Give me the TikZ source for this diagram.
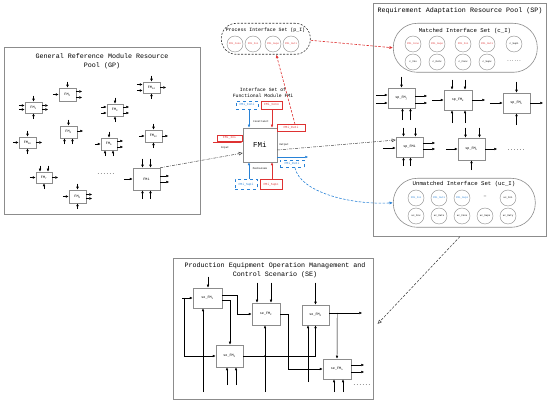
\documentclass[tikz,border=0pt]{standalone}
\usepackage{fontspec}
\setmainfont{Liberation Mono}
\usetikzlibrary{arrows.meta,calc}
\definecolor{ired}{RGB}{222,50,50}
\definecolor{iblue}{RGB}{40,130,215}
\definecolor{boxgray}{RGB}{140,140,140}
\newcommand\myfs[2]{\fontsize{#1}{#2}\selectfont}
\newcommand\pinsL[3]{\foreach \o in {#3}{\draw[pin] ($(#1.west)+(-#2,\o)$) -- ($(#1.west)+(0,\o)$);}}
\newcommand\pinsR[3]{\foreach \o in {#3}{\draw[pin] ($(#1.east)+(0,\o)$) -- ($(#1.east)+(#2,\o)$);}}
\newcommand\pinsT[3]{\foreach \o in {#3}{\draw[pin] ($(#1.north)+(\o,-#2)$) -- ($(#1.north)+(\o,0)$);}}
\newcommand\pinsB[3]{\foreach \o in {#3}{\draw[pin] ($(#1.south)+(\o,#2)$) -- ($(#1.south)+(\o,0)$);}}
\begin{document}
\begin{tikzpicture}[x=1pt,y=-1pt,
  frame/.style={draw=boxgray, line width=0.7pt, fill=white, anchor=north west, inner sep=0pt},
  title/.style={font=\myfs{6.7}{9}, align=center},
  blk/.style={draw=boxgray, line width=0.5pt, fill=white, inner sep=0pt, font=\myfs{3.4}{4}},
  pin/.style={-{Latex[length=3pt,width=2.6pt]}, line width=0.45pt},
  ibox/.style={line width=0.5pt, inner sep=0pt, font=\myfs{3.1}{4}},
  lbl/.style={font=\myfs{2.6}{3}, inner sep=0pt},
  circ/.style={circle, draw=boxgray, line width=0.4pt, minimum size=16pt, inner sep=0pt, font=\myfs{2.5}{3}},
  setbox/.style={draw=boxgray, line width=0.6pt, anchor=north west, inner sep=0pt, rounded corners=24pt},
  dd/.style={draw=black!75, line width=0.5pt, dash pattern=on 3pt off 1.2pt on 0.6pt off 1.2pt, -{Triangle[open,length=4pt,width=3.5pt]}},
  rd/.style={draw=ired, line width=0.6pt, dash pattern=on 2.5pt off 1.5pt, -{Latex[length=3.5pt,width=3pt]}},
  bd/.style={draw=iblue, line width=0.6pt, dash pattern=on 2.5pt off 1.5pt, -{Latex[length=3.5pt,width=3pt]}},
  kd/.style={draw=black!80, line width=0.5pt, dash pattern=on 2.5pt off 1.5pt, -{Triangle[open,length=4pt,width=3.5pt]}}
]
\useasboundingbox (0,0) rectangle (550,401);

% ================= GP =================
\node[frame, minimum width=196pt, minimum height=167pt] (gp) at (4,47) {};
\node[title] (gpt) at (102,61.5) {General Reference Module Resource\\Pool (GP)};

\node[blk, minimum width=17pt, minimum height=11pt] (g1) at (33.5,107.5) {FM\textsubscript{1}};
\pinsL{g1}{6}{-2,2}\pinsT{g1}{6}{0}\pinsR{g1}{6}{-2,2}\pinsB{g1}{6}{0}
\node[blk, minimum width=17pt, minimum height=13pt] (g2) at (67.5,94.5) {FM\textsubscript{2}};
\pinsL{g2}{6}{0}\pinsT{g2}{6}{0}\pinsR{g2}{6}{-3,3}
\node[blk, minimum width=17pt, minimum height=11pt] (g14) at (151.5,87.5) {FM\textsubscript{14}};
\pinsL{g14}{6}{-3,3}\pinsT{g14}{6}{0}\pinsR{g14}{6}{0}\pinsB{g14}{6}{0}
\node[blk, minimum width=16pt, minimum height=12pt] (g3) at (115,110) {FM\textsubscript{3}};
\pinsL{g3}{6}{-3,3}\pinsT{g3}{6}{0}\pinsR{g3}{6}{-3,3}\pinsB{g3}{6}{0}
\node[blk, minimum width=17pt, minimum height=12pt] (g4) at (68.5,132) {FM\textsubscript{4}};
\pinsT{g4}{6}{0}\pinsR{g4}{6}{-1}\pinsB{g4}{6}{-4,4}
\node[blk, minimum width=17pt, minimum height=11pt] (g10) at (27.5,142.5) {FM\textsubscript{10}};
\pinsL{g10}{6}{0}\pinsT{g10}{6}{0}\pinsR{g10}{6}{0}\pinsB{g10}{6}{0}
\node[blk, minimum width=16pt, minimum height=12pt] (g5) at (109,144) {FM\textsubscript{5}};
\pinsL{g5}{6}{0}\pinsT{g5}{6}{0}\pinsR{g5}{6}{-3,3}\pinsB{g5}{6}{-4,4}
\node[blk, minimum width=17pt, minimum height=12pt] (g12) at (153.5,136) {FM\textsubscript{12}};
\pinsL{g12}{6}{0}\pinsT{g12}{6}{0}\pinsR{g12}{6}{0}\pinsB{g12}{6}{0}
\node[blk, minimum width=16pt, minimum height=11pt] (g7) at (44,177.5) {FM\textsubscript{7}};
\pinsL{g7}{6}{0}\pinsT{g7}{6}{-4,4}\pinsR{g7}{6}{0}\pinsB{g7}{6}{0}
\node[blk, minimum width=17pt, minimum height=13pt] (g8) at (77.5,196.5) {FM\textsubscript{8}};
\pinsL{g8}{6}{0}\pinsT{g8}{6}{0}\pinsR{g8}{6}{-2,2}\pinsB{g8}{6}{0}
\node[blk, minimum width=27pt, minimum height=22pt] (gi) at (146.5,179) {FMi};
\pinsL{gi}{9}{0}\pinsT{gi}{9}{-4,4}\pinsR{gi}{9}{-3,3}\pinsB{gi}{9}{-4,4}
\node[font=\myfs{5}{6}] (gdots) at (106,174) {......};

% ================= centre =================
\node[setbox, dash pattern=on 2pt off 1.5pt, draw=black!80, minimum width=89pt, minimum height=31pt, rounded corners=15pt] (ps) at (221,23) {};
\node[font=\myfs{4.9}{6}] (pst) at (265.5,30) {Process Interface Set (p\_I)};
\node[circ, text=ired] (p1) at (235,44) {FMi\_Cono};
\node[circ, text=ired] (p2) at (253,44) {FMi\_Ini};
\node[circ, text=ired] (p3) at (273,44) {FMi\_Supo};
\node[circ, text=ired] (p4) at (291,44) {FMi\_Outi};

\node[font=\myfs{4.8}{6}, align=center] (ist) at (263,93) {Interface Set of\\Functional Module FMi};
\node[ibox, draw=iblue, dashed, text=iblue, minimum width=22pt, minimum height=8pt] (coni) at (247,105) {FMi\_Coni};
\node[ibox, draw=ired, text=ired, minimum width=21pt, minimum height=8pt] (cono) at (271.5,105) {FMi\_Cono};
\node[blk, minimum size=34pt, font=\myfs{7.5}{8}] (fmi) at (260,145) {FMi};
\draw[pin, iblue] ($(coni.south)+(2,0)$) -- ($(fmi.north)+(-11,0)$);
\draw[pin, ired] ($(cono.south)+(0.5,0)$) -- ($(fmi.north)+(12,0)$);
\node[lbl] (lcon) at (261,122) {Constraint};
\node[ibox, draw=ired, text=ired, minimum width=28pt, minimum height=7pt] (outr) at (291,128) {FMi\_Outi};
\node[ibox, draw=ired, text=ired, minimum width=25pt, minimum height=6pt] (inr) at (229.5,138) {FMi\_Ini};
\draw[pin, ired] ($(fmi.west)+(-30,-3)$) -- ($(fmi.west)+(0,-3)$);
\node[lbl] (lin) at (225,147.5) {Input};
\node[lbl] (lout) at (284,145) {Output};
\draw[pin, iblue] ($(fmi.east)+(0,12)$) -- ++(31,0);
\node[ibox, draw=iblue, dashed, text=iblue, minimum width=24pt, minimum height=7pt] (outb) at (292,164) {FMi\_Outi};
\node[lbl] (lmec) at (260,169) {Mechanism};
\node[ibox, draw=iblue, dashed, text=iblue, minimum width=22pt, minimum height=10pt] (supi) at (246,184.5) {FMi\_Supi};
\node[ibox, draw=ired, text=ired, minimum width=22pt, minimum height=10pt] (supo) at (271,184.5) {FMi\_Supo};
\draw[pin, iblue] ($(supi.north)+(3,0)$) -- ($(fmi.south)+(-11,0)$);
\draw[pin, ired] ($(supo.north)+(1,0)$) -- ($(fmi.south)+(12,0)$);

% ================= SP =================
\node[frame, minimum width=173pt, minimum height=233pt] (sp) at (373,3) {};
\node[title] (spt) at (460,10.5) {Requirement Adaptation Resource Pool (SP)};
\node[setbox, minimum width=144pt, minimum height=49pt] (ms) at (393,23) {};
\node[font=\myfs{5.7}{7}] (mst) at (465,31) {Matched Interface Set (c\_I)};
\node[circ, text=ired] (m1) at (413,44) {FMi\_Cono};
\node[circ, text=ired] (m2) at (437,44) {FMi\_Supo};
\node[circ, text=ired] (m3) at (463,44) {FMi\_Ini};
\node[circ, text=ired] (m4) at (487,44) {FMi\_Outi};
\node[circ] (m5) at (514,44) {c\_Supi};
\node[circ] (m6) at (413,62) {c\_Inx};
\node[circ] (m7) at (437,62) {c\_Outx};
\node[circ] (m8) at (463,62) {c\_Conx};
\node[circ] (m9) at (487,62) {c\_Supx};
\node[font=\myfs{4}{5}] (mdots) at (514,61) {......};

\node[blk, minimum width=27pt, minimum height=20pt] (spj) at (401.5,98) {sp\_FM\textsubscript{j}};
\pinsL{spj}{12}{-3,5}\pinsT{spj}{11}{0}\pinsR{spj}{12}{-2,5}\pinsB{spj}{12}{1,9}
\node[blk, minimum width=28pt, minimum height=20pt] (sp2) at (458,100) {sp\_FM\textsubscript{k}};
\pinsL{sp2}{12}{0}\pinsT{sp2}{10}{-6,7}\pinsR{sp2}{13}{0}\pinsB{sp2}{13}{-6,7}
\node[blk, minimum width=27pt, minimum height=20pt] (spk) at (516.5,103) {sp\_FM\textsubscript{k}};
\pinsL{spk}{13}{0}\pinsT{spk}{11}{0}\pinsR{spk}{13}{0}\pinsB{spk}{12}{0}
\node[blk, minimum width=27pt, minimum height=20pt] (spi) at (409.5,147) {sp\_FMi};
\pinsL{spi}{13}{1}\pinsT{spi}{9}{-6,6}\pinsR{spi}{12}{-4,2}\pinsB{spi}{9}{-6,1}
\node[blk, minimum width=27pt, minimum height=22pt] (spm) at (471.5,149) {sp\_FM\textsubscript{k}};
\pinsL{spm}{12}{0}\pinsT{spm}{10}{-6,8}\pinsR{spm}{12}{0}\pinsB{spm}{10}{0}
\node[font=\myfs{5}{6}] (sdots) at (516,150) {......};

\node[setbox, minimum width=142pt, minimum height=49pt] (ums) at (393,178) {};
\node[font=\myfs{5.7}{7}] (umt) at (464,184.5) {Unmatched Interface Set (uc\_I)};
\node[circ, text=iblue] (u1) at (416,198) {FMi\_Ini};
\node[circ, text=iblue] (u2) at (439,198) {FMi\_Outi};
\node[circ, text=iblue] (u3) at (462,198) {FMi\_Supi};
\node[font=\myfs{4}{5}] (udash) at (485,197) {---};
\node[circ] (u5) at (508,198) {uc\_Ini};
\node[circ] (u6) at (416,216) {uc\_Inx};
\node[circ] (u7) at (439,216) {uc\_Outx};
\node[circ] (u8) at (462,216) {uc\_Conx};
\node[circ] (u9) at (485,216) {uc\_Supx};
\node[circ] (u10) at (508,216) {uc\_Outy};

% ================= SE =================
\node[frame, minimum width=200pt, minimum height=141pt] (se) at (173,258) {};
\node[title] (set) at (275,270) {Production Equipment Operation Management and\\Control Scenario (SE)};
\node[blk, minimum width=29pt, minimum height=20pt] (s1) at (207.5,298) {se\_FM\textsubscript{1}};
\node[blk, minimum width=28pt, minimum height=22pt] (s2) at (266,314) {se\_FM\textsubscript{2}};
\node[blk, minimum width=27pt, minimum height=20pt] (s4) at (315.5,315) {se\_FM\textsubscript{4}};
\node[blk, minimum width=27pt, minimum height=22pt] (s3) at (229.5,356) {se\_FM\textsubscript{3}};
\node[blk, minimum width=28pt, minimum height=20pt] (sn) at (337,369) {se\_FM\textsubscript{n}};
\coordinate (in0) at (182,298);
\coordinate (lp) at (184,298);
\draw[pin] ($(s1.north)+(0.5,-11)$) -- ($(s1.north)+(0.5,0)$);
\draw[pin] ($(s2.north)+(-9,-20)$) -- ($(s2.north)+(-9,0)$);
\draw[pin] ($(s2.north)+(5,-20)$) -- ($(s2.north)+(5,0)$);
\draw[pin] ($(s4.north)+(0,-22)$) -- (s4.north);
\draw[pin] (in0) -- (s1.west);
\draw[pin] (lp) |- (s3.west);
\draw[pin] ($(s1.east)+(0,-3)$) -- ++(15,0) |- (s2.west);
\draw[pin] ($(s1.east)+(0,2)$) -| ($(s3.north)+(0.5,0)$);
\draw[pin] (s2.east) -- ++(8,0) |- (sn.west);
\draw[pin] ($(s4.east)+(0,-2)$) -- ++(33,0);
\draw[pin] ($(s4.east)+(8,-2)$) -- (sn.north);
\draw[pin] (s3.east) -| (s4.south);
\fill ($(s2.south |- s3.east)+(-1,0)$) circle (0.8);
\draw[pin] ($(s2.south)+(-1,67)$) -- ($(s2.south)+(-1,0)$);
\draw[pin] ($(s1.south)+(-4.5,84)$) -- ($(s1.south)+(-4.5,0)$);
\pinsB{s3}{18}{-2.5,6.5}
\draw[pin] ($(s4.south)+(-7.5,57)$) -- ($(s4.south)+(-7.5,0)$);
\pinsB{sn}{13}{-3,6}
\pinsR{sn}{13}{-4,3}
\node[font=\myfs{5}{6}] (edots) at (362,385) {......};

% ================= cross links =================
\draw[dd] (gi.north east) -- ($(fmi.west)+(0,8)$);
\draw[dd] ($(fmi.east)+(0,5)$) -- ($(spi.west)+(0,-7)$);
\draw[rd] ($(outr.north)+(4,0)$) -- ($(ps.south)+(10.5,0)$);
\draw[rd] ($(ps.east)+(0,1.5)$) -- (ms.west);
\draw[bd] ($(outb.south)+(3,0)$) .. controls (300,192) and (350,205) .. (ums.west);
\draw[kd] (sp.south) -- ($(se.east)+(4,-5)$);
\end{tikzpicture}
\end{document}
